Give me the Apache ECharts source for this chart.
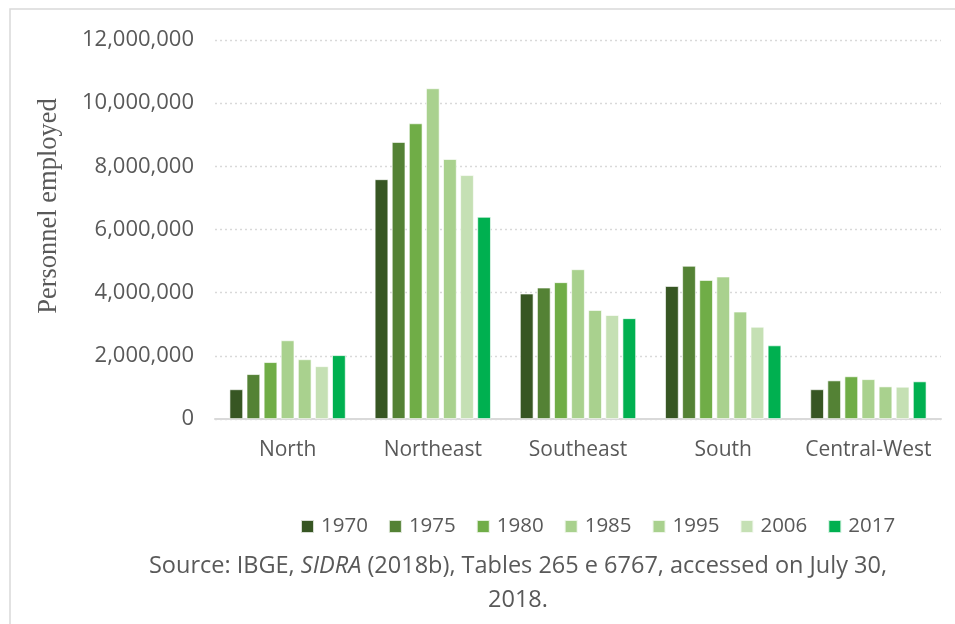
<!DOCTYPE html>
<html>
<head>
<meta charset="utf-8">
<script src="https://cdn.jsdelivr.net/npm/echarts@6/dist/echarts.min.js"></script>
<style>
	html, body { margin: 0; padding: 0; background: #fff; }
	#chart { width: 955px; height: 624px; }
</style>
</head>
<body>
<div id="chart"></div>
<script>
// regions and years
const regions = ['North', 'Northeast', 'Southeast', 'South', 'Central-West'];
const years = ['1970', '1975', '1980', '1985', '1995', '2006', '2017'];

// personnel employed per region, one array per census year
const v1970 = [940000, 7590000, 3970000, 4210000, 940000];
const v1975 = [1420000, 8770000, 4160000, 4850000, 1220000];
const v1980 = [1800000, 9360000, 4330000, 4400000, 1350000];
const v1985 = [2490000, 10470000, 4740000, 4510000, 1260000];
const v1995 = [1890000, 8230000, 3450000, 3400000, 1030000];
const v2006 = [1670000, 7720000, 3290000, 2920000, 1020000];
const v2017 = [2020000, 6400000, 3190000, 2330000, 1190000];

const yearValues = [v1970, v1975, v1980, v1985, v1995, v2006, v2017];
const colors = ['#375623', '#548235', '#70AD47', '#A9D18E', '#A9D18E', '#C5E0B4', '#00B050'];

const myChart = echarts.init(document.getElementById('chart'));

const series = years.map((y, i) => ({
	name: y,
	type: 'bar',
	data: yearValues[i],
	barGap: '26%',
	barCategoryGap: '20%',
	itemStyle: { color: colors[i], borderColor: 'rgba(255,255,255,0.8)', borderWidth: 0.8 }
}));

const option = {
	animation: false,
	color: colors,
	textStyle: { fontFamily: 'Open Sans' },
	grid: { left: 215, right: 14, top: 40, bottom: 205, containLabel: false },
	legend: {
		data: years,
		left: 295,
		top: 511,
		itemWidth: 13,
		itemHeight: 13,
		itemGap: 20,
		icon: 'rect',
		textStyle: { fontSize: 20.5, color: '#595959', fontFamily: 'Open Sans', padding: [0, 0, 0, 2] }
	},
	xAxis: {
		type: 'category',
		data: regions,
		axisLine: { lineStyle: { color: '#d9d9d9', width: 2 } },
		axisTick: { show: false },
		axisLabel: { interval: 0, fontSize: 21, color: '#595959', margin: 21, fontFamily: 'Open Sans' }
	},
	yAxis: {
		type: 'value',
		min: 0,
		max: 12000000,
		interval: 2000000,
		axisLine: { show: false },
		axisTick: { show: false },
		axisLabel: {
			fontSize: 22,
			color: '#595959',
			margin: 21,
			fontFamily: 'Open Sans',
			formatter: (v) => v.toLocaleString('en-US')
		},
		splitLine: { lineStyle: { color: '#d9d9d9', width: 1.3, type: [2, 3] } }
	},
	graphic: [
		{
			type: 'rect',
			shape: { x: 10, y: 9, width: 1200, height: 1200 },
			style: { fill: 'none', stroke: '#d9d9d9', lineWidth: 1.5 },
			silent: true
		},
		{
			// axis title sits a little above the plot's middle, so place it by hand
			type: 'text',
			x: 49,
			y: 206,
			rotation: Math.PI / 2,
			style: {
				text: 'Personnel employed',
				fontFamily: 'Liberation Serif',
				fontSize: 26.5,
				fill: '#595959',
				align: 'center',
				verticalAlign: 'middle'
			}
		},
		{
			type: 'text',
			x: 518,
			y: 549,
			style: {
				text: '{n|Source: IBGE, }{i|SIDRA}{n| (2018b), Tables 265 e 6767, accessed on July 30,}\n{n|2018.}',
				align: 'center',
				rich: {
					n: { fontFamily: 'Open Sans', fontSize: 23.5, fill: '#595959', lineHeight: 34 },
					i: { fontFamily: 'Open Sans', fontSize: 23.5, fill: '#595959', fontStyle: 'italic', lineHeight: 34 }
				}
			}
		}
	],
	series: series
};

myChart.setOption(option);
</script>
</body>
</html>
